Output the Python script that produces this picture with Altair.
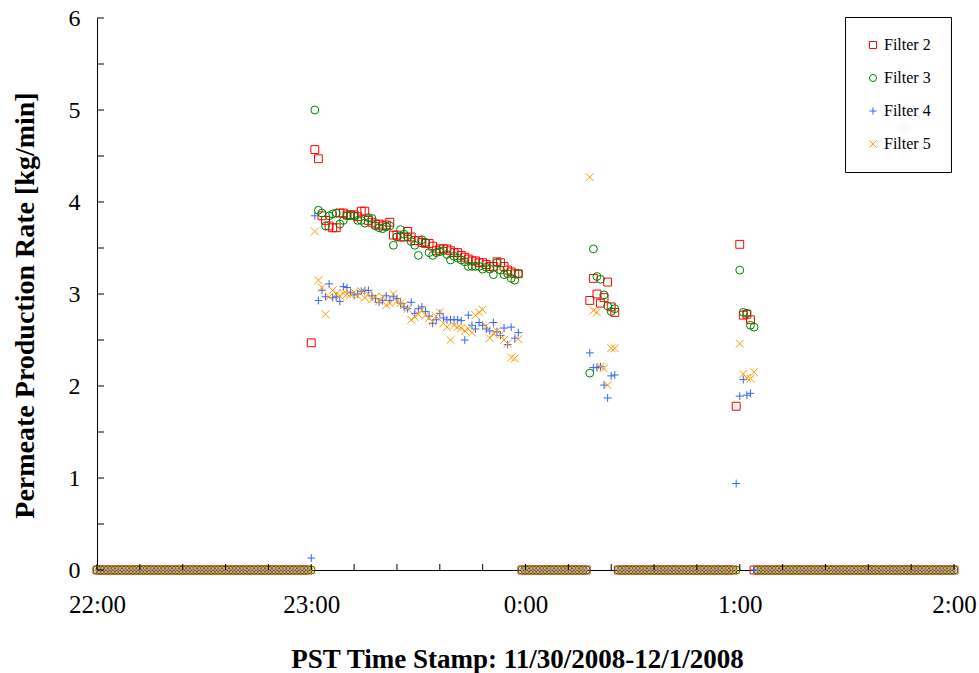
import altair as alt
import pandas as pd

# ---------------- data ----------------
SERIES = ["Filter 2", "Filter 3", "Filter 4", "Filter 5"]
COLORS = ["#FF0000", "#008000", "#3366FF", "#FF9900"]
SHAPES = ["square", "circle", "M-1,0L1,0M0,-1L0,1", "M-1,-1L1,1M-1,1L1,-1"]

HOUR_MINUTES = [0, 60, 120, 180, 240]          # minutes after 22:00
HOUR_LABELS = ["22:00", "23:00", "0:00", "1:00", "2:00"]
X_MINOR = [0, 12, 24, 36, 48, 60, 72, 84, 96, 108, 120, 132, 144, 156, 168,
           180, 192, 204, 216, 228, 240]
Y_MAJOR = [0, 1, 2, 3, 4, 5, 6]
Y_TICKS = [0, 0.5, 1, 1.5, 2, 2.5, 3, 3.5, 4, 4.5, 5, 5.5, 6]

# minute ranges (inclusive) where every filter reads 0 kg/min
ZERO_RUNS = [(0, 59), (119, 137), (146, 178), (185, 240)]

# readings, one per minute, given as (start minute, values)
F2_RUNS = [
    (60, [2.47, 4.57, 4.47, 3.85, 3.80, 3.74, 3.72, 3.72, 3.88, 3.88, 3.86, 3.86,
          3.86, 3.84, 3.90, 3.90, 3.80, 3.78, 3.76, 3.76, 3.74, 3.75, 3.78, 3.64,
          3.64, 3.62, 3.62, 3.68, 3.62, 3.58, 3.58, 3.56, 3.55, 3.55, 3.52, 3.47,
          3.49, 3.49, 3.49, 3.47, 3.45, 3.45, 3.42, 3.40, 3.38, 3.36, 3.36, 3.34,
          3.34, 3.32, 3.30, 3.30, 3.35, 3.34, 3.30, 3.26, 3.24, 3.22, 3.22]),
    (138, [2.93, 3.17, 3.00, 2.90, 2.96, 3.13, 2.86, 2.80]),
    (179, [1.78, 3.54, 2.77, 2.78, 2.72, 0.0]),
]
F3_RUNS = [
    (60, [0.0, 5.00, 3.91, 3.88, 3.74, 3.85, 3.87, 3.88, 3.76, 3.80, 3.85, 3.855,
          3.85, 3.80, 3.80, 3.77, 3.83, 3.82, 3.74, 3.72, 3.71, 3.73, 3.74, 3.53,
          3.62, 3.70, 3.65, 3.62, 3.57, 3.53, 3.42, 3.59, 3.56, 3.45, 3.42, 3.45,
          3.46, 3.47, 3.43, 3.37, 3.41, 3.39, 3.37, 3.35, 3.30, 3.30, 3.30, 3.30,
          3.27, 3.29, 3.27, 3.21, 3.34, 3.26, 3.21, 3.22, 3.17, 3.15, 3.22]),
    (138, [2.14, 3.49, 3.19, 3.16, 2.99, 2.87, 2.81, 2.84]),
    (179, [0.0, 3.26, 2.80, 2.79, 2.66, 2.64]),
]
F4_RUNS = [
    (60, [0.13, 3.85, 2.93, 3.04, 2.97, 3.11, 2.96, 2.97, 2.92, 3.08, 3.07, 3.02,
          2.99, 3.00, 3.03, 3.04, 3.04, 2.98, 2.95, 2.91, 2.93, 2.98, 2.93, 2.97,
          2.95, 2.90, 2.86, 2.84, 2.91, 2.79, 2.84, 2.86, 2.81, 2.76, 2.68, 2.72,
          2.79, 2.74, 2.72, 2.72, 2.72, 2.72, 2.71, 2.50, 2.77, 2.66, 2.62, 2.69,
          2.66, 2.62, 2.60, 2.69, 2.59, 2.55, 2.63, 2.45, 2.64, 2.52, 2.58]),
    (138, [2.36, 2.20, 2.20, 2.21, 2.01, 1.87, 2.11, 2.12]),
    (179, [0.94, 1.89, 2.07, 1.90, 1.92, 0.0]),
]
F5_RUNS = [
    (60, [0.0, 3.68, 3.15, 3.07, 2.78, 2.97, 3.04, 3.00, 2.98, 3.01, 3.00, 2.99,
          3.02, 2.98, 3.03, 2.96, 3.00, 2.94, 2.97, 2.92, 2.97, 2.88, 2.90, 3.00,
          2.92, 2.90, 2.88, 2.84, 2.72, 2.75, 2.78, 2.83, 2.77, 2.74, 2.70, 2.76,
          2.80, 2.68, 2.64, 2.50, 2.66, 2.64, 2.63, 2.60, 2.62, 2.58, 2.77, 2.80,
          2.83, 2.65, 2.52, 2.57, 2.60, 2.56, 2.50, 2.46, 2.31, 2.30, 2.51]),
    (138, [4.27, 2.82, 2.80, 2.21, 2.19, 2.01, 2.41, 2.41]),
    (179, [0.0, 2.46, 2.13, 2.09, 2.08, 2.15]),
]

rows = []
for name, runs in zip(SERIES, [F2_RUNS, F3_RUNS, F4_RUNS, F5_RUNS]):
    pts = {}
    for a, b in ZERO_RUNS:
        for m in range(a, b + 1):
            pts[m] = 0.0
    for start, vals in runs:
        for i, v in enumerate(vals):
            pts[start + i] = v
    for m in sorted(pts):
        rows.append({"minute": m, "rate": pts[m], "series": name})
df = pd.DataFrame(rows)

# ---------------- chart ----------------
W, H = 857, 552
FONT = "Liberation Serif"
X_TITLE = "PST Time Stamp: 11/30/2008-12/1/2008"
Y_TITLE = "Permeate Production Rate [kg/min]"

label_expr = " : ".join(
    f"datum.value == {m} ? '{l}'" for m, l in zip(HOUR_MINUTES, HOUR_LABELS)
) + " : ''"

xscale = alt.Scale(domain=[0, 240], nice=False, zero=False)
yscale = alt.Scale(domain=[0, 6], nice=False)

x_axis = alt.Axis(values=HOUR_MINUTES, labelExpr=label_expr, title=X_TITLE,
                  labelFlush=False, labelOverlap=False,
                  titleX=420, titleY=97, titleBaseline="alphabetic",
                  titleAlign="center", titleFontSize=27,
                  labelPadding=22, labelFontSize=25)
y_axis = alt.Axis(values=Y_MAJOR, format="d", title=Y_TITLE,
                  labelFlush=False, labelOverlap=False,
                  titleAngle=-90, titleX=-64, titleY=287,
                  titleBaseline="alphabetic", titleAlign="center",
                  titleFontSize=28, labelPadding=17, labelFontSize=24)

points = alt.Chart(df).mark_point(filled=False, strokeWidth=1, size=62, opacity=1).encode(
    x=alt.X("minute:Q", scale=xscale, axis=x_axis, title=X_TITLE),
    y=alt.Y("rate:Q", scale=yscale, axis=y_axis, title=Y_TITLE),
    color=alt.Color("series:N", scale=alt.Scale(domain=SERIES, range=COLORS),
                    legend=alt.Legend(title=None, orient="none",
                                      legendX=748, legendY=-1)),
    shape=alt.Shape("series:N", scale=alt.Scale(domain=SERIES, range=SHAPES),
                    legend=alt.Legend(title=None, orient="none",
                                      legendX=748, legendY=-1)),
)

yticks = alt.Chart(pd.DataFrame({"rate": Y_TICKS})).mark_rule(
    color="black", strokeWidth=1
).encode(
    y=alt.Y("rate:Q", scale=yscale, title=Y_TITLE),
    x=alt.value(0), x2=alt.value(7),
)
xticks = alt.Chart(pd.DataFrame({"minute": X_MINOR})).mark_rule(
    color="black", strokeWidth=1
).encode(
    x=alt.X("minute:Q", scale=xscale, title=X_TITLE),
    y=alt.value(H), y2=alt.value(H - 6),
)

chart = alt.layer(points, yticks, xticks).properties(
    width=W, height=H,
    autosize=alt.AutoSizeParams(type="none"),
    padding={"left": 97, "top": 18, "right": 25, "bottom": 103},
    background="white",
).configure_view(stroke=None).configure_axis(
    domainColor="black", domainWidth=1, grid=False, ticks=False, tickSize=0,
    labelFont=FONT, labelColor="black", titleFont=FONT,
    titleFontWeight="bold", titleColor="black",
).configure_legend(
    padding=20, strokeColor="black", strokeWidth=1, fillColor="white",
    labelFont=FONT, labelFontSize=16, labelColor="black",
    symbolSize=50, symbolStrokeWidth=1, rowPadding=17, labelOffset=3,
    cornerRadius=0,
)

chart.save("out.html", embed_options={"renderer": "svg", "actions": False})
